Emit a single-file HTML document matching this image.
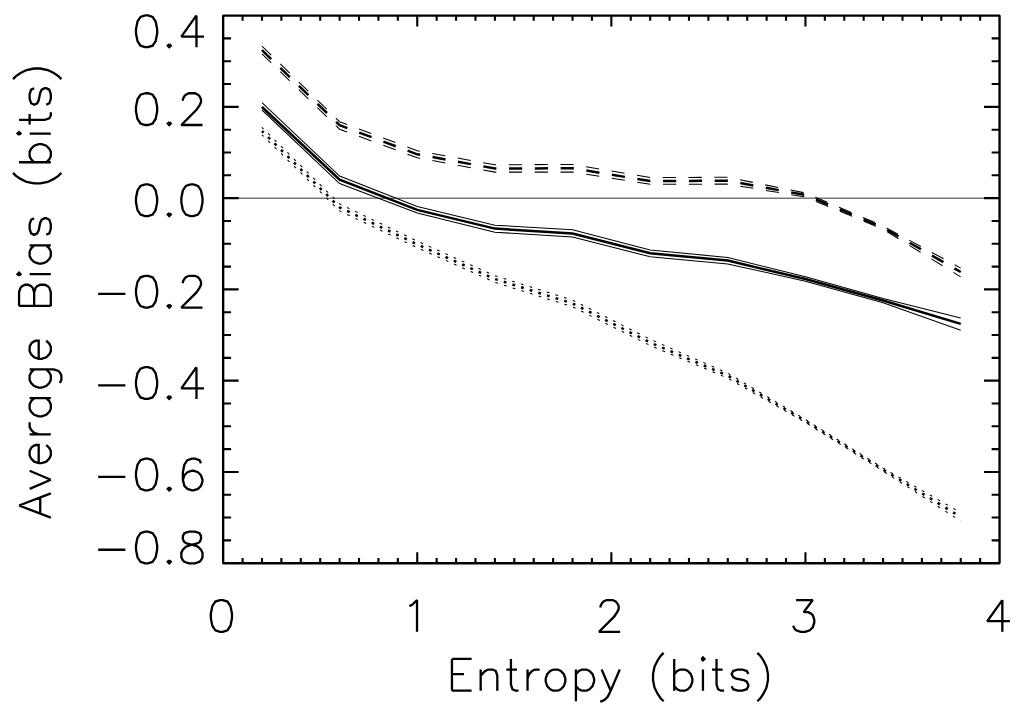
<!DOCTYPE html>
<html><head><meta charset="utf-8"><title>Average Bias vs Entropy</title>
<style>
html,body{margin:0;padding:0;background:#fff;}
body{width:1024px;height:712px;overflow:hidden;font-family:"Liberation Sans",sans-serif;}
svg{display:block;}
</style></head>
<body>
<svg width="1024" height="712" viewBox="0 0 1024 712"><path d="M223.15 15.6H999.55V563.2H223.15Z" fill="none" stroke="#000" stroke-width="2.35" stroke-linejoin="bevel"/><path d="M242.56 563.2v-5.2M242.56 15.6v5.2M261.97 563.2v-5.2M261.97 15.6v5.2M281.38 563.2v-5.2M281.38 15.6v5.2M300.79 563.2v-5.2M300.79 15.6v5.2M320.2 563.2v-5.2M320.2 15.6v5.2M339.61 563.2v-5.2M339.61 15.6v5.2M359.02 563.2v-5.2M359.02 15.6v5.2M378.43 563.2v-5.2M378.43 15.6v5.2M397.84 563.2v-5.2M397.84 15.6v5.2M417.25 563.2v-11M417.25 15.6v11M436.66 563.2v-5.2M436.66 15.6v5.2M456.07 563.2v-5.2M456.07 15.6v5.2M475.48 563.2v-5.2M475.48 15.6v5.2M494.89 563.2v-5.2M494.89 15.6v5.2M514.3 563.2v-5.2M514.3 15.6v5.2M533.71 563.2v-5.2M533.71 15.6v5.2M553.12 563.2v-5.2M553.12 15.6v5.2M572.53 563.2v-5.2M572.53 15.6v5.2M591.94 563.2v-5.2M591.94 15.6v5.2M611.35 563.2v-11M611.35 15.6v11M630.76 563.2v-5.2M630.76 15.6v5.2M650.17 563.2v-5.2M650.17 15.6v5.2M669.58 563.2v-5.2M669.58 15.6v5.2M688.99 563.2v-5.2M688.99 15.6v5.2M708.4 563.2v-5.2M708.4 15.6v5.2M727.81 563.2v-5.2M727.81 15.6v5.2M747.22 563.2v-5.2M747.22 15.6v5.2M766.63 563.2v-5.2M766.63 15.6v5.2M786.04 563.2v-5.2M786.04 15.6v5.2M805.45 563.2v-11M805.45 15.6v11M824.86 563.2v-5.2M824.86 15.6v5.2M844.27 563.2v-5.2M844.27 15.6v5.2M863.68 563.2v-5.2M863.68 15.6v5.2M883.09 563.2v-5.2M883.09 15.6v5.2M902.5 563.2v-5.2M902.5 15.6v5.2M921.91 563.2v-5.2M921.91 15.6v5.2M941.32 563.2v-5.2M941.32 15.6v5.2M960.73 563.2v-5.2M960.73 15.6v5.2M980.14 563.2v-5.2M980.14 15.6v5.2M223.15 38.42h7.9M999.55 38.42h-7.9M223.15 61.23h7.9M999.55 61.23h-7.9M223.15 84.05h7.9M999.55 84.05h-7.9M223.15 106.87h15.5M999.55 106.87h-15.5M223.15 129.68h7.9M999.55 129.68h-7.9M223.15 152.5h7.9M999.55 152.5h-7.9M223.15 175.32h7.9M999.55 175.32h-7.9M223.15 198.13h15.5M999.55 198.13h-15.5M223.15 220.95h7.9M999.55 220.95h-7.9M223.15 243.77h7.9M999.55 243.77h-7.9M223.15 266.58h7.9M999.55 266.58h-7.9M223.15 289.4h15.5M999.55 289.4h-15.5M223.15 312.22h7.9M999.55 312.22h-7.9M223.15 335.03h7.9M999.55 335.03h-7.9M223.15 357.85h7.9M999.55 357.85h-7.9M223.15 380.67h15.5M999.55 380.67h-15.5M223.15 403.48h7.9M999.55 403.48h-7.9M223.15 426.3h7.9M999.55 426.3h-7.9M223.15 449.12h7.9M999.55 449.12h-7.9M223.15 471.93h15.5M999.55 471.93h-15.5M223.15 494.75h7.9M999.55 494.75h-7.9M223.15 517.57h7.9M999.55 517.57h-7.9M223.15 540.38h7.9M999.55 540.38h-7.9" fill="none" stroke="#000" stroke-width="2.1"/><path d="M223.15 198.18H999.55" stroke="#000" stroke-width="0.8"/><path d="M261.97 102.7L339.61 176.1L417.25 206.6L494.89 225.2L572.53 229.8L650.17 250.1L727.81 257.4L805.45 276.8L883.09 298.5L960.73 318.1" fill="none" stroke="#000" stroke-width="1.05"/><path d="M261.97 110L339.61 183.6L417.25 213.1L494.89 232.2L572.53 237L650.17 256.8L727.81 263.9L805.45 281.2L883.09 302.7L960.73 330.2" fill="none" stroke="#000" stroke-width="1.05"/><path d="M261.97 107L339.61 179.6L417.25 209.9L494.89 228.6L572.53 233.5L650.17 253.3L727.81 260.6L805.45 279L883.09 300.5L960.73 323.9" fill="none" stroke="#000" stroke-width="2.5"/><path d="M261.97 46.2L339.61 121.7L417.25 150.7L494.89 164.8L572.53 164.5L650.17 177.5L727.81 177.3L805.45 193L883.09 226L960.73 268.1" fill="none" stroke="#000" stroke-width="1.05" stroke-dasharray="13.2 12.64" stroke-dashoffset="0.32"/><path d="M261.97 53.8L339.61 129.2L417.25 157.8L494.89 172.1L572.53 172.1L650.17 184.3L727.81 184.1L805.45 197L883.09 229.2L960.73 276.9" fill="none" stroke="#000" stroke-width="1.05" stroke-dasharray="13.2 12.64" stroke-dashoffset="0.32"/><path d="M261.97 50.2L339.61 125.2L417.25 154.3L494.89 168.5L572.53 168.3L650.17 181L727.81 180.8L805.45 195L883.09 227.6L960.73 272" fill="none" stroke="#000" stroke-width="2.5" stroke-dasharray="13.2 12.64" stroke-dashoffset="0.32"/><path d="M261.97 127.4L339.61 203.9L417.25 241.1L494.89 275.7L572.53 300.1L650.17 339.3L727.81 373.2L805.45 419.5L883.09 468.1L960.73 512.7" fill="none" stroke="#000" stroke-width="1.05" stroke-dasharray="2.8 6.252" stroke-dashoffset="0.485"/><path d="M261.97 134.8L339.61 210.9L417.25 247.7L494.89 282.3L572.53 306.8L650.17 345.5L727.81 378.2L805.45 422.5L883.09 471.1L960.73 521.1" fill="none" stroke="#000" stroke-width="1.05" stroke-dasharray="2.8 6.252" stroke-dashoffset="0.485"/><path d="M261.97 131.1L339.61 207.4L417.25 244.4L494.89 279L572.53 303.4L650.17 342.5L727.81 375.7L805.45 421L883.09 469.6L960.73 517" fill="none" stroke="#000" stroke-width="2.5" stroke-dasharray="2.8 6.252" stroke-dashoffset="0.485"/><path d="M145.06 15.45L140.52 16.96L137.5 21.5L135.99 29.06L135.99 33.59L137.5 41.15L140.52 45.69L145.06 47.2L148.08 47.2L152.62 45.69L155.64 41.15L157.15 33.59L157.15 29.06L155.64 21.5L152.62 16.96L148.08 15.45L145.06 15.45M169.25 44.18L167.74 45.69L169.25 47.2L170.76 45.69L169.25 44.18M196.47 15.45L181.35 36.62L204.03 36.62M196.47 15.45L196.47 47.2M145.06 93.25L140.52 94.76L137.5 99.3L135.99 106.86L135.99 111.39L137.5 118.95L140.52 123.49L145.06 125L148.08 125L152.62 123.49L155.64 118.95L157.15 111.39L157.15 106.86L155.64 99.3L152.62 94.76L148.08 93.25L145.06 93.25M169.25 121.98L167.74 123.49L169.25 125L170.76 123.49L169.25 121.98M182.86 100.81L182.86 99.3L184.37 96.27L185.88 94.76L188.91 93.25L194.95 93.25L197.98 94.76L199.49 96.27L201 99.3L201 102.32L199.49 105.34L196.47 109.88L181.35 125L202.51 125M145.06 184.35L140.52 185.86L137.5 190.4L135.99 197.96L135.99 202.49L137.5 210.05L140.52 214.59L145.06 216.1L148.08 216.1L152.62 214.59L155.64 210.05L157.15 202.49L157.15 197.96L155.64 190.4L152.62 185.86L148.08 184.35L145.06 184.35M169.25 213.08L167.74 214.59L169.25 216.1L170.76 214.59L169.25 213.08M190.42 184.35L185.88 185.86L182.86 190.4L181.35 197.96L181.35 202.49L182.86 210.05L185.88 214.59L190.42 216.1L193.44 216.1L197.98 214.59L201 210.05L202.51 202.49L202.51 197.96L201 190.4L197.98 185.86L193.44 184.35L190.42 184.35M98.19 293.94L125.4 293.94M145.06 275.8L140.52 277.31L137.5 281.85L135.99 289.41L135.99 293.94L137.5 301.5L140.52 306.04L145.06 307.55L148.08 307.55L152.62 306.04L155.64 301.5L157.15 293.94L157.15 289.41L155.64 281.85L152.62 277.31L148.08 275.8L145.06 275.8M169.25 304.53L167.74 306.04L169.25 307.55L170.76 306.04L169.25 304.53M182.86 283.36L182.86 281.85L184.37 278.82L185.88 277.31L188.91 275.8L194.95 275.8L197.98 277.31L199.49 278.82L201 281.85L201 284.87L199.49 287.89L196.47 292.43L181.35 307.55L202.51 307.55M98.19 385.34L125.4 385.34M145.06 367.2L140.52 368.71L137.5 373.25L135.99 380.81L135.99 385.34L137.5 392.9L140.52 397.44L145.06 398.95L148.08 398.95L152.62 397.44L155.64 392.9L157.15 385.34L157.15 380.81L155.64 373.25L152.62 368.71L148.08 367.2L145.06 367.2M169.25 395.93L167.74 397.44L169.25 398.95L170.76 397.44L169.25 395.93M196.47 367.2L181.35 388.37L204.03 388.37M196.47 367.2L196.47 398.95M98.19 476.79L125.4 476.79M145.06 458.65L140.52 460.16L137.5 464.7L135.99 472.26L135.99 476.79L137.5 484.35L140.52 488.89L145.06 490.4L148.08 490.4L152.62 488.89L155.64 484.35L157.15 476.79L157.15 472.26L155.64 464.7L152.62 460.16L148.08 458.65L145.06 458.65M169.25 487.38L167.74 488.89L169.25 490.4L170.76 488.89L169.25 487.38M201 463.18L199.49 460.16L194.95 458.65L191.93 458.65L187.39 460.16L184.37 464.7L182.86 472.26L182.86 479.82L184.37 485.86L187.39 488.89L191.93 490.4L193.44 490.4L197.98 488.89L201 485.86L202.51 481.33L202.51 479.82L201 475.28L197.98 472.26L193.44 470.74L191.93 470.74L187.39 472.26L184.37 475.28L182.86 479.82M98.19 549.74L125.4 549.74M145.06 531.6L140.52 533.11L137.5 537.65L135.99 545.21L135.99 549.74L137.5 557.3L140.52 561.84L145.06 563.35L148.08 563.35L152.62 561.84L155.64 557.3L157.15 549.74L157.15 545.21L155.64 537.65L152.62 533.11L148.08 531.6L145.06 531.6M169.25 560.33L167.74 561.84L169.25 563.35L170.76 561.84L169.25 560.33M188.91 531.6L184.37 533.11L182.86 536.13L182.86 539.16L184.37 542.18L187.39 543.69L193.44 545.21L197.98 546.72L201 549.74L202.51 552.77L202.51 557.3L201 560.33L199.49 561.84L194.95 563.35L188.91 563.35L184.37 561.84L182.86 560.33L181.35 557.3L181.35 552.77L182.86 549.74L185.88 546.72L190.42 545.21L196.47 543.69L199.49 542.18L201 539.16L201 536.13L199.49 533.11L194.95 531.6L188.91 531.6M219.89 600.05L215.35 601.56L212.33 606.1L210.82 613.66L210.82 618.19L212.33 625.75L215.35 630.29L219.89 631.8L222.91 631.8L227.45 630.29L230.47 625.75L231.98 618.19L231.98 613.66L230.47 606.1L227.45 601.56L222.91 600.05L219.89 600.05M409.45 606.1L412.48 604.58L417.01 600.05L417.01 631.8M600.53 607.61L600.53 606.1L602.04 603.07L603.55 601.56L606.58 600.05L612.62 600.05L615.65 601.56L617.16 603.07L618.67 606.1L618.67 609.12L617.16 612.14L614.14 616.68L599.02 631.8L620.18 631.8M796.14 600.05L812.77 600.05L803.7 612.14L808.24 612.14L811.26 613.66L812.77 615.17L814.28 619.7L814.28 622.73L812.77 627.26L809.75 630.29L805.21 631.8L800.68 631.8L796.14 630.29L794.63 628.78L793.12 625.75M1002.34 600.05L987.22 621.22L1009.9 621.22M1002.34 600.05L1002.34 631.8M451.95 658.95L451.95 690.7M451.95 658.95L471.6 658.95M451.95 674.07L464.04 674.07M451.95 690.7L471.6 690.7M480.68 669.53L480.68 690.7M480.68 675.58L485.21 671.04L488.24 669.53L492.77 669.53L495.8 671.04L497.31 675.58L497.31 690.7M510.92 658.95L510.92 684.65L512.43 689.19L515.45 690.7L518.48 690.7M506.38 669.53L516.96 669.53M527.55 669.53L527.55 690.7M527.55 678.6L529.06 674.07L532.08 671.04L535.11 669.53L539.64 669.53M553.25 669.53L550.23 671.04L547.2 674.07L545.69 678.6L545.69 681.63L547.2 686.16L550.23 689.19L553.25 690.7L557.79 690.7L560.81 689.19L563.84 686.16L565.35 681.63L565.35 678.6L563.84 674.07L560.81 671.04L557.79 669.53L553.25 669.53M575.93 669.53L575.93 701.28M575.93 674.07L578.96 671.04L581.98 669.53L586.52 669.53L589.54 671.04L592.56 674.07L594.08 678.6L594.08 681.63L592.56 686.16L589.54 689.19L586.52 690.7L581.98 690.7L578.96 689.19L575.93 686.16M601.64 669.53L610.71 690.7M619.78 669.53L610.71 690.7L607.68 696.75L604.66 699.77L601.64 701.28L600.12 701.28M663.63 652.9L660.6 655.92L657.58 660.46L654.56 666.51L653.04 674.07L653.04 680.12L654.56 687.68L657.58 693.72L660.6 698.26L663.63 701.28M674.21 658.95L674.21 690.7M674.21 674.07L677.24 671.04L680.26 669.53L684.8 669.53L687.82 671.04L690.84 674.07L692.36 678.6L692.36 681.63L690.84 686.16L687.82 689.19L684.8 690.7L680.26 690.7L677.24 689.19L674.21 686.16M701.43 658.95L702.94 660.46L704.45 658.95L702.94 657.44L701.43 658.95M702.94 669.53L702.94 690.7M716.55 658.95L716.55 684.65L718.06 689.19L721.08 690.7L724.11 690.7M712.01 669.53L722.6 669.53M748.3 674.07L746.79 671.04L742.25 669.53L737.72 669.53L733.18 671.04L731.67 674.07L733.18 677.09L736.2 678.6L743.76 680.12L746.79 681.63L748.3 684.65L748.3 686.16L746.79 689.19L742.25 690.7L737.72 690.7L733.18 689.19L731.67 686.16M757.37 652.9L760.4 655.92L763.42 660.46L766.44 666.51L767.96 674.07L767.96 680.12L766.44 687.68L763.42 693.72L760.4 698.26L757.37 701.28M19.05 505.49L50.8 517.59M19.05 505.49L50.8 493.4M40.22 513.05L40.22 497.93M29.63 488.86L50.8 479.79M29.63 470.72L50.8 479.79M38.7 463.16L38.7 445.01L35.68 445.01L32.66 446.52L31.14 448.04L29.63 451.06L29.63 455.6L31.14 458.62L34.17 461.64L38.7 463.16L41.73 463.16L46.26 461.64L49.29 458.62L50.8 455.6L50.8 451.06L49.29 448.04L46.26 445.01M29.63 434.43L50.8 434.43M38.7 434.43L34.17 432.92L31.14 429.89L29.63 426.87L29.63 422.33M29.63 398.14L50.8 398.14M34.17 398.14L31.14 401.16L29.63 404.19L29.63 408.72L31.14 411.75L34.17 414.77L38.7 416.28L41.73 416.28L46.26 414.77L49.29 411.75L50.8 408.72L50.8 404.19L49.29 401.16L46.26 398.14M29.63 369.41L53.82 369.41L58.36 370.92L59.87 372.44L61.38 375.46L61.38 380L59.87 383.02M34.17 369.41L31.14 372.44L29.63 375.46L29.63 380L31.14 383.02L34.17 386.04L38.7 387.56L41.73 387.56L46.26 386.04L49.29 383.02L50.8 380L50.8 375.46L49.29 372.44L46.26 369.41M38.7 358.83L38.7 340.68L35.68 340.68L32.66 342.2L31.14 343.71L29.63 346.73L29.63 351.27L31.14 354.29L34.17 357.32L38.7 358.83L41.73 358.83L46.26 357.32L49.29 354.29L50.8 351.27L50.8 346.73L49.29 343.71L46.26 340.68M19.05 305.91L50.8 305.91M19.05 305.91L19.05 292.3L20.56 287.76L22.07 286.25L25.1 284.74L28.12 284.74L31.14 286.25L32.66 287.76L34.17 292.3M34.17 305.91L34.17 292.3L35.68 287.76L37.19 286.25L40.22 284.74L44.75 284.74L47.78 286.25L49.29 287.76L50.8 292.3L50.8 305.91M19.05 275.67L20.56 274.16L19.05 272.64L17.54 274.16L19.05 275.67M29.63 274.16L50.8 274.16M29.63 245.43L50.8 245.43M34.17 245.43L31.14 248.45L29.63 251.48L29.63 256.01L31.14 259.04L34.17 262.06L38.7 263.57L41.73 263.57L46.26 262.06L49.29 259.04L50.8 256.01L50.8 251.48L49.29 248.45L46.26 245.43M34.17 218.21L31.14 219.72L29.63 224.26L29.63 228.8L31.14 233.33L34.17 234.84L37.19 233.33L38.7 230.31L40.22 222.75L41.73 219.72L44.75 218.21L46.26 218.21L49.29 219.72L50.8 224.26L50.8 228.8L49.29 233.33L46.26 234.84M13 172.85L16.02 175.88L20.56 178.9L26.61 181.92L34.17 183.44L40.22 183.44L47.78 181.92L53.82 178.9L58.36 175.88L61.38 172.85M19.05 162.27L50.8 162.27M34.17 162.27L31.14 159.24L29.63 156.22L29.63 151.68L31.14 148.66L34.17 145.64L38.7 144.12L41.73 144.12L46.26 145.64L49.29 148.66L50.8 151.68L50.8 156.22L49.29 159.24L46.26 162.27M19.05 135.05L20.56 133.54L19.05 132.03L17.54 133.54L19.05 135.05M29.63 133.54L50.8 133.54M19.05 119.93L44.75 119.93L49.29 118.42L50.8 115.4L50.8 112.37M29.63 124.47L29.63 113.88M34.17 88.18L31.14 89.69L29.63 94.23L29.63 98.76L31.14 103.3L34.17 104.81L37.19 103.3L38.7 100.28L40.22 92.72L41.73 89.69L44.75 88.18L46.26 88.18L49.29 89.69L50.8 94.23L50.8 98.76L49.29 103.3L46.26 104.81M13 79.11L16.02 76.08L20.56 73.06L26.61 70.04L34.17 68.52L40.22 68.52L47.78 70.04L53.82 73.06L58.36 76.08L61.38 79.11" fill="none" stroke="#000" stroke-width="2.3" stroke-linecap="butt" stroke-linejoin="miter" stroke-miterlimit="2"/></svg>
</body></html>
